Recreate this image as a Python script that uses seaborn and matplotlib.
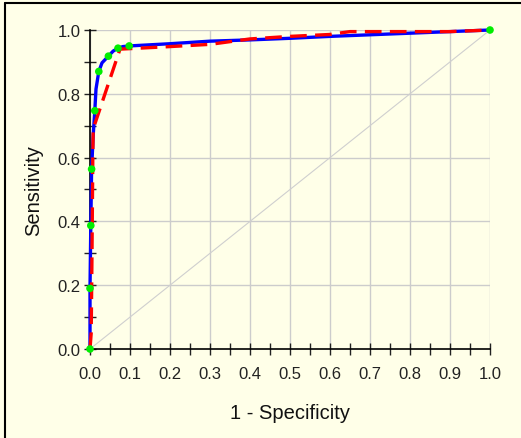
import numpy as np
import pandas as pd
import seaborn as sns
from matplotlib import pyplot as plt
from matplotlib.lines import Line2D
from matplotlib.ticker import MultipleLocator

# fitted (smooth) ROC curve
fit_fpr = [0.0, 0.0, 0.002, 0.004, 0.008, 0.012, 0.015, 0.022, 0.03, 0.046, 0.058, 0.07, 0.082, 0.098,
           0.2, 0.3, 0.4, 0.5, 0.6, 0.7, 0.8, 0.9, 1.0]
fit_tpr = [0.0, 0.19, 0.387, 0.564, 0.67, 0.747, 0.815, 0.87, 0.897, 0.918, 0.934, 0.943, 0.948, 0.95,
           0.957, 0.965, 0.969, 0.974, 0.98, 0.985, 0.99, 0.995, 1.0]

# empirical ROC curve
emp_fpr = [0.0, 0.003, 0.005, 0.007, 0.008, 0.075, 0.2, 0.3, 0.4, 0.5, 0.6, 0.65, 0.9, 1.0]
emp_tpr = [0.0, 0.05, 0.3, 0.6, 0.69, 0.94, 0.948, 0.955, 0.972, 0.98, 0.986, 0.995, 0.995, 1.0]

# operating points
pt_fpr = [0.0, 0.0, 0.002, 0.004, 0.012, 0.022, 0.046, 0.07, 0.098, 1.0]
pt_tpr = [0.0, 0.19, 0.387, 0.564, 0.747, 0.87, 0.918, 0.943, 0.95, 1.0]

bg = '#FFFFE8'
sns.set_style('white')
plt.rcParams['font.family'] = ['Liberation Sans', 'DejaVu Sans']

fig = plt.figure(figsize=(5.21, 4.39), dpi=100, facecolor=bg)
ax = fig.add_axes([90/521, 1-350/439, 400/521, 319/439])
ax.set_facecolor(bg)

# chance line
ax.plot([0, 1], [0, 1], color='#CFCFCF', lw=0.8, zorder=1)

fit = pd.DataFrame({'fpr': fit_fpr, 'tpr': fit_tpr})
emp = pd.DataFrame({'fpr': emp_fpr, 'tpr': emp_tpr})
pts = pd.DataFrame({'fpr': pt_fpr, 'tpr': pt_tpr})

sns.lineplot(data=fit, x='fpr', y='tpr', sort=False, estimator=None,
             color='#0000FF', lw=2.4, ax=ax, zorder=3, clip_on=False)
sns.lineplot(data=emp, x='fpr', y='tpr', sort=False, estimator=None,
             color='#FF0000', lw=2.4, dashes=False, ax=ax, zorder=4, clip_on=False)
ax.lines[-1].set_dashes((5, 2.5))
sns.scatterplot(data=pts, x='fpr', y='tpr', color='#00EE00', s=30,
                edgecolor='none', ax=ax, zorder=5, clip_on=False)

ax.set_xlim(0, 1)
ax.set_ylim(0, 1)
ax.xaxis.set_major_locator(MultipleLocator(0.1))
ax.xaxis.set_minor_locator(MultipleLocator(0.05))
ax.yaxis.set_major_locator(MultipleLocator(0.2))
ax.yaxis.set_minor_locator(MultipleLocator(0.1))
ax.xaxis.set_major_formatter(lambda v, p: f'{v:.1f}')
ax.yaxis.set_major_formatter(lambda v, p: f'{v:.1f}')

ax.grid(True, which='major', color='#CCCCCC', lw=1)
ax.set_axisbelow(True)
for s in ['top', 'right']:
    ax.spines[s].set_visible(False)
for s in ['left', 'bottom']:
    ax.spines[s].set_color('black')
    ax.spines[s].set_linewidth(1.2)

ax.tick_params(axis='both', which='both', direction='inout', length=8,
               width=1, color='#222222', labelsize=12, labelcolor='#222222')
ax.tick_params(axis='both', which='both', left=True, bottom=True)
ax.tick_params(axis='x', pad=8)
ax.tick_params(axis='y', pad=3)

ax.set_xlabel('1 - Specificity', fontsize=14.5, color='#111111')
ax.set_ylabel('Sensitivity', fontsize=14.5, color='#111111')
ax.xaxis.set_label_coords(0.5, -0.168)
ax.yaxis.set_label_coords(-0.117, 0.5)

# window frame (top and left edges)
fig.add_artist(Line2D([5/521, 5/521], [0, 1-4/439], transform=fig.transFigure, color='black', lw=1.5))
fig.add_artist(Line2D([5/521, 1], [1-4/439, 1-4/439], transform=fig.transFigure, color='black', lw=1.5))

fig.savefig('out.png', dpi=100, facecolor=bg)
